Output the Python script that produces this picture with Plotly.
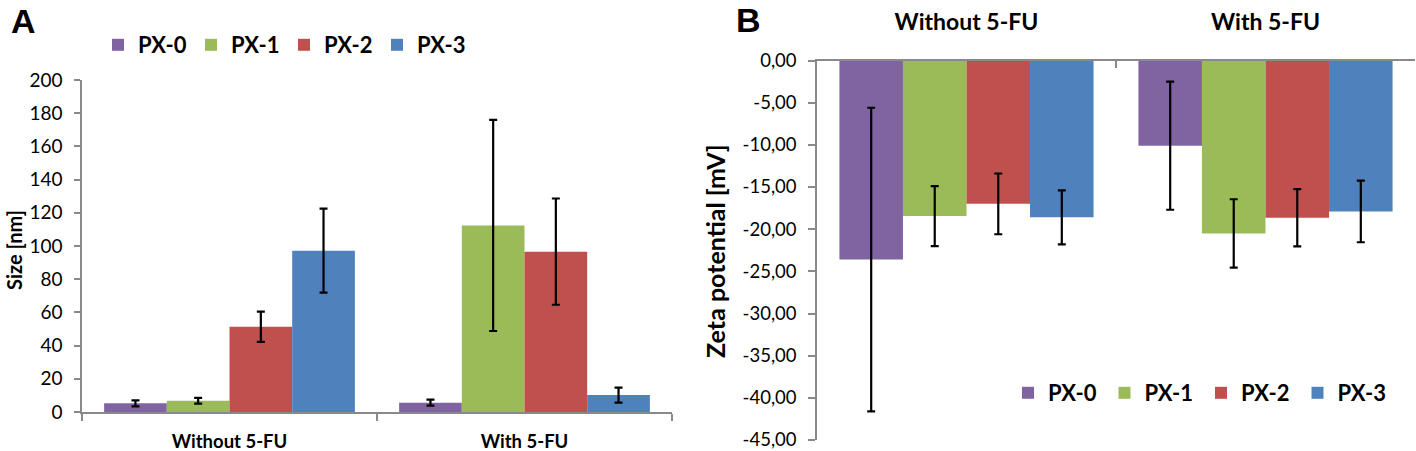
import plotly.graph_objects as go

# ---------------- data ----------------
categories = ["Without 5-FU", "With 5-FU"]
series_names = ["PX-0", "PX-1", "PX-2", "PX-3"]
series_colors = ["#8064A2", "#9BBB59", "#C0504D", "#4F81BD"]

# Panel A: particle size [nm]
size_px0 = [5.2, 5.6]
size_px1 = [6.8, 112.4]
size_px2 = [51.4, 96.6]
size_px3 = [97.2, 10.2]
size_err_px0 = [1.8, 1.8]
size_err_px1 = [1.7, 63.6]
size_err_px2 = [9.1, 32.0]
size_err_px3 = [25.3, 4.5]

# Panel B: zeta potential [mV]
zeta_px0 = [-23.6, -10.1]
zeta_px1 = [-18.45, -20.5]
zeta_px2 = [-17.0, -18.65]
zeta_px3 = [-18.6, -17.9]
zeta_err_px0 = [18.0, 7.6]
zeta_err_px1 = [3.55, 4.05]
zeta_err_px2 = [3.6, 3.4]
zeta_err_px3 = [3.2, 3.65]

size_ticks = [0, 20, 40, 60, 80, 100, 120, 140, 160, 180, 200]
zeta_ticks = [0, -5, -10, -15, -20, -25, -30, -35, -40, -45]
zeta_tick_labels = [f"{v:.2f}".replace(".", ",") for v in zeta_ticks]

size_vals = [size_px0, size_px1, size_px2, size_px3]
size_errs = [size_err_px0, size_err_px1, size_err_px2, size_err_px3]
zeta_vals = [zeta_px0, zeta_px1, zeta_px2, zeta_px3]
zeta_errs = [zeta_err_px0, zeta_err_px1, zeta_err_px2, zeta_err_px3]

# ---------------- layout helpers ----------------
W, H = 1416, 451
FONT = "Lato"
AXC = "#898989"


def px(a):
    return min(max(a / W, 0), 1)


def py(a):
    return min(max(1 - a / H, 0), 1)


def dx(a, b):
    return [px(a), px(b)]


def dy(top, bottom):
    return [py(bottom), py(top)]


fig = go.Figure()

for name, color, vals, errs in zip(series_names, series_colors, size_vals, size_errs):
    fig.add_trace(go.Bar(
        x=categories, y=vals, name=name,
        marker=dict(color=color, line=dict(width=0)),
        error_y=dict(type="data", array=errs, color="black", thickness=2.2, width=4),
        xaxis="x", yaxis="y", legend="legend",
    ))

for name, color, vals, errs in zip(series_names, series_colors, zeta_vals, zeta_errs):
    fig.add_trace(go.Bar(
        x=categories, y=vals, name=name,
        marker=dict(color=color, line=dict(width=0)),
        error_y=dict(type="data", array=errs, color="black", thickness=2.2, width=4),
        xaxis="x2", yaxis="y2", legend="legend2",
    ))

cat_font_a = dict(family=FONT, size=18.5, color="black", weight="bold")
cat_font_b = dict(family=FONT, size=23, color="black", weight="bold")
num_font_a = dict(family=FONT, size=19, color="black")
num_font_b = dict(family=FONT, size=18.5, color="black")
leg_font = dict(family=FONT, size=22, color="black", weight="bold")

fig.update_layout(
    width=W, height=H,
    margin=dict(l=0, r=0, t=0, b=0),
    paper_bgcolor="white", plot_bgcolor="white",
    barmode="group", bargap=0.15, bargroupgap=0,
    font=dict(family=FONT, color="black"),
    xaxis=dict(
        domain=dx(82, 672), anchor="y", type="category",
        showline=True, linecolor=AXC, linewidth=1.5,
        ticks="outside", ticklen=7, tickcolor=AXC, tickwidth=1.5,
        tickson="boundaries", tickfont=cat_font_a, ticklabelstandoff=12,
        showgrid=False, automargin=False, fixedrange=True,
    ),
    yaxis=dict(
        domain=dy(80, 412), anchor="x", range=[0, 200],
        tickvals=size_ticks,
        showline=True, linecolor=AXC, linewidth=1.5,
        ticks="outside", ticklen=6, tickcolor=AXC, tickwidth=1.5,
        tickfont=num_font_a, ticklabelstandoff=8, ticklabeloverflow="allow",
        showgrid=False, zeroline=False, automargin=False,
    ),
    xaxis2=dict(
        domain=dx(817, 1415), anchor="y2", type="category", side="top",
        showline=True, linecolor=AXC, linewidth=1.5,
        ticks="inside", ticklen=8, tickcolor=AXC, tickwidth=1.5,
        tickson="boundaries", tickfont=cat_font_b, ticklabelstandoff=20,
        showgrid=False, automargin=False,
    ),
    yaxis2=dict(
        domain=dy(60.5, 440.0), anchor="x2", range=[-45, 0],
        tickvals=zeta_ticks, ticktext=zeta_tick_labels,
        showline=True, linecolor=AXC, linewidth=1.5,
        ticks="outside", ticklen=7, tickcolor=AXC, tickwidth=1.5,
        tickfont=num_font_b, ticklabelstandoff=8, ticklabeloverflow="allow",
        showgrid=False, zeroline=False, automargin=False,
    ),
    legend=dict(
        orientation="h", x=px(98), xanchor="left", y=py(45), yanchor="middle",
        font=leg_font, entrywidth=48, entrywidthmode="pixels",
        bgcolor="rgba(0,0,0,0)", traceorder="normal",
    ),
    legend2=dict(
        orientation="h", x=px(1008), xanchor="left", y=py(393), yanchor="middle",
        font=leg_font, entrywidth=51.5, entrywidthmode="pixels",
        bgcolor="rgba(0,0,0,0)", traceorder="normal",
    ),
    annotations=[
        dict(text="<b>A</b>", x=px(23), y=py(21), xref="paper", yref="paper",
             xanchor="center", yanchor="middle",
             showarrow=False, font=dict(family="Liberation Sans", size=34, color="black")),
        dict(text="<b>B</b>", x=px(748), y=py(20), xref="paper", yref="paper",
             xanchor="center", yanchor="middle",
             showarrow=False, font=dict(family="Liberation Sans", size=34, color="black")),
        dict(text="<b>Size [nm]</b>", x=px(14), y=py(250), xref="paper", yref="paper",
             xanchor="center", yanchor="middle",
             showarrow=False, textangle=-90, font=dict(family=FONT, size=20, color="black")),
        dict(text="<b>Zeta potential [mV]</b>", x=px(715), y=py(251), xref="paper", yref="paper",
             xanchor="center", yanchor="middle",
             showarrow=False, textangle=-90, font=dict(family=FONT, size=25, color="black")),
    ],
)

fig.write_html("out.html", config={"displayModeBar": False},
               post_script="document.body.style.margin='0px';")
